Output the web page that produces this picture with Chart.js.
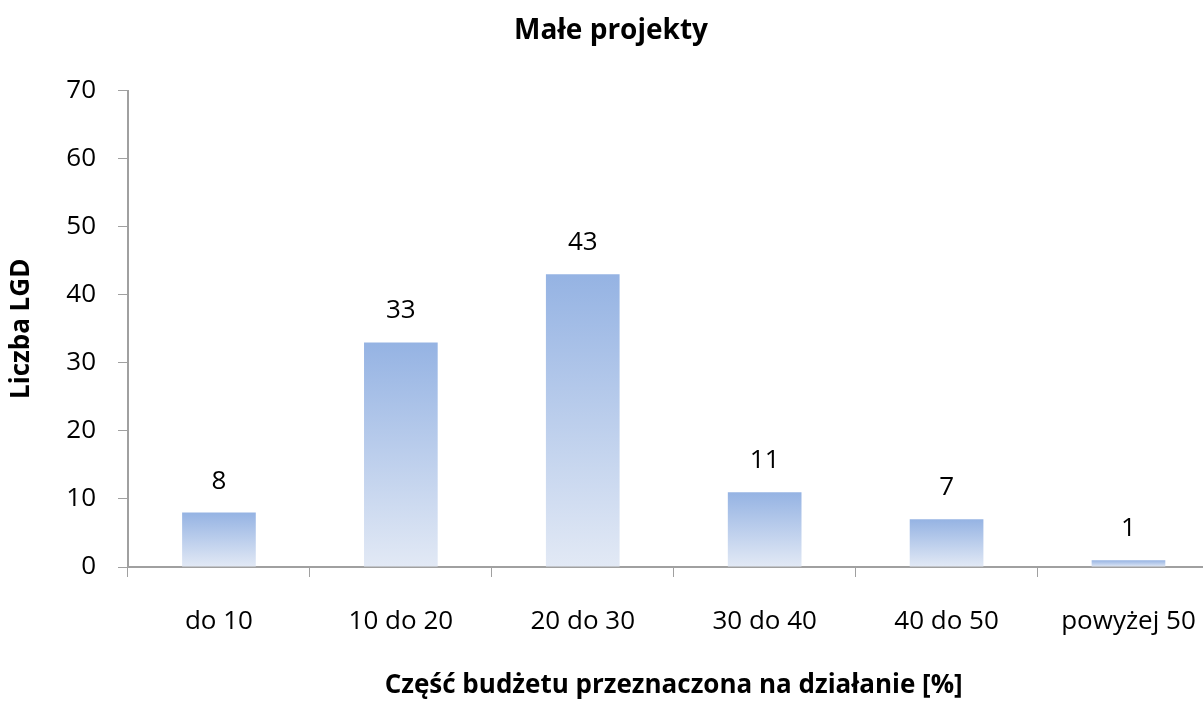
<!DOCTYPE html>
<html><head><meta charset="utf-8">
<script src="https://cdn.jsdelivr.net/npm/chart.js@4"></script>
<style>html,body{margin:0;padding:0;overflow:hidden;background:#fff}#wrap{width:1225px;height:701px}</style>
</head><body><div id="wrap"><canvas id="c"></canvas></div>
<script>
const categories = ['do 10', '10 do 20', '20 do 30', '30 do 40', '40 do 50', 'powyżej 50'];
const values = [8, 33, 43, 11, 7, 1];
const yTicks = [0, 10, 20, 30, 40, 50, 60, 70];
const chartTitle = 'Małe projekty';
const xTitle = 'Część budżetu przeznaczona na działanie [%]';
const yTitle = 'Liczba LGD';
const FONT = '"Open Sans", Lato, sans-serif';

const labelPlugin = {
  id: 'vals',
  afterDatasetsDraw(chart) {
    const ctx = chart.ctx;
    const meta = chart.getDatasetMeta(0);
    ctx.save();
    ctx.font = '26px ' + FONT;
    ctx.fillStyle = '#000';
    ctx.textAlign = 'center';
    ctx.textBaseline = 'alphabetic';
    meta.data.forEach((bar, i) => {
      ctx.fillText(String(values[i]), bar.x, bar.y - 24);
    });
    ctx.restore();
  }
};

new Chart(document.getElementById('c'), {
  type: 'bar',
  data: {
    labels: categories,
    datasets: [{
      data: values,
      backgroundColor(ctx) {
        const chart = ctx.chart;
        if (!chart.chartArea) return '#b0c6ea';
        const ys = chart.scales.y;
        const top = ys.getPixelForValue(ctx.raw);
        const bottom = ys.getPixelForValue(0);
        const g = chart.ctx.createLinearGradient(0, top, 0, bottom);
        g.addColorStop(0, '#95b3e3');
        g.addColorStop(1, '#e2e9f5');
        return g;
      },
      borderWidth: 0,
      categoryPercentage: 1,
      barPercentage: 0.405
    }]
  },
  options: {
    responsive: true,
    maintainAspectRatio: false,
    animation: false,
    layout: { padding: { left: 0, right: 3, top: 0, bottom: 0 } },
    plugins: {
      legend: { display: false },
      tooltip: { enabled: false },
      title: {
        display: true, text: chartTitle, color: '#000',
        font: { family: FONT, size: 28, weight: 'bold' },
        padding: { top: 14, bottom: 43 }
      }
    },
    scales: {
      x: {
        afterFit(s) { s.height = 134; },
        grid: { display: true, drawOnChartArea: false, drawTicks: true, tickLength: 10, color: '#a0a0a0', offset: true },
        border: { display: true, color: '#a0a0a0', width: 2 },
        ticks: { color: '#000', font: { family: FONT, size: 26 }, padding: 29 },
        title: { display: true, text: xTitle, color: '#000', font: { family: FONT, size: 26, weight: 'bold' }, padding: { top: 30, bottom: 0 } }
      },
      y: {
        min: 0, max: 70,
        afterFit(s) { s.width = 128; },
        afterBuildTicks(s) { s.ticks = yTicks.map(v => ({ value: v })); },
        grid: { display: true, drawOnChartArea: false, drawTicks: true, tickLength: 10, color: '#a0a0a0' },
        border: { display: true, color: '#a0a0a0', width: 2 },
        ticks: { color: '#000', font: { family: FONT, size: 26 }, padding: 22 },
        title: { display: true, text: yTitle, color: '#000', font: { family: FONT, size: 26, weight: 'bold' }, padding: { top: 6, bottom: 0 } }
      }
    }
  },
  plugins: [labelPlugin]
});
</script></body></html>
